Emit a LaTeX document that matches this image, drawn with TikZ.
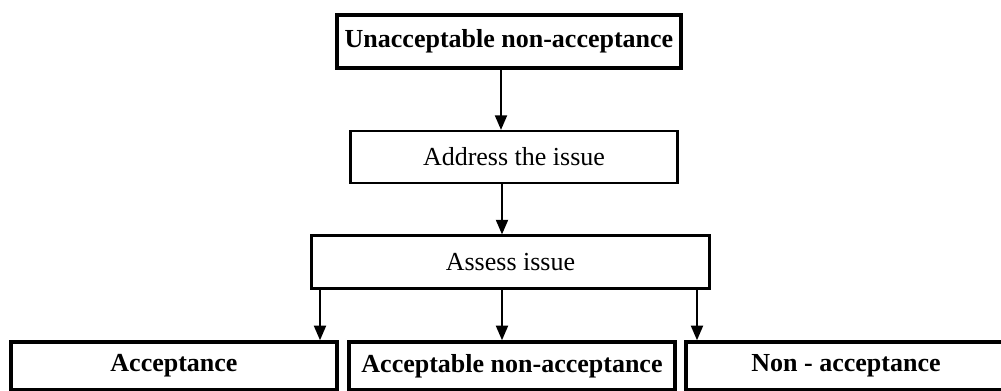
\documentclass[tikz,border=0pt]{standalone}
\usepackage{fontspec}
\setmainfont{Liberation Serif}
\usetikzlibrary{arrows.meta}
\begin{document}
\begin{tikzpicture}[x=0.75pt,y=-0.75pt,
  thickbox/.style={draw,line width=2.6pt,font=\fontsize{19.5}{22}\selectfont\bfseries},
  thinbox/.style={draw,line width=1.6pt,font=\fontsize{19.5}{22}\selectfont},
  arr/.style={line width=1.6pt,-{Triangle[length=11pt,width=9pt]}}]
\useasboundingbox (0,0) rectangle (1001,391);
\begin{scope}
\clip (0,0) rectangle (1001,391);
% boxes, placed by their centres and sizes
\node[thickbox,minimum width=344*0.75pt,minimum height=53*0.75pt,inner sep=0pt] (top) at (509,41.5) {Unacceptable non-acceptance};
\node[thinbox,minimum width=327*0.75pt,minimum height=52*0.75pt,inner sep=0pt] (addr) at (514,157) {Address the issue};
\node[thinbox,minimum width=398*0.75pt,minimum height=53*0.75pt,inner sep=0pt] (assess) at (510.5,262) {Assess issue};
\node[thickbox,minimum width=326*0.75pt,minimum height=48*0.75pt,inner sep=0pt] (acc) at (174,366) {Acceptance};
\node[thickbox,minimum width=326*0.75pt,minimum height=48*0.75pt,inner sep=0pt] (accnon) at (512,366) {Acceptable non-acceptance};
\node[thickbox,minimum width=326*0.75pt,minimum height=48*0.75pt,inner sep=0pt] (non) at (849,366) {};
\node[font=\fontsize{19.5}{22}\selectfont\bfseries] (nonlabel) at (846,366) {Non - acceptance};
% x positions of the connectors
\coordinate (a1) at (501,0);
\coordinate (a2) at (502,0);
\coordinate (b1) at (320,0);
\coordinate (b2) at (502,0);
\coordinate (b3) at (697,0);
\draw[arr] (top.south -| a1) -- (addr.north -| a1);
\draw[arr] (addr.south -| a2) -- (assess.north -| a2);
\draw[arr] (assess.south -| b1) -- (acc.north -| b1);
\draw[arr] (assess.south -| b2) -- (accnon.north -| b2);
\draw[arr] (assess.south -| b3) -- (non.north -| b3);
\end{scope}
\end{tikzpicture}
\end{document}
